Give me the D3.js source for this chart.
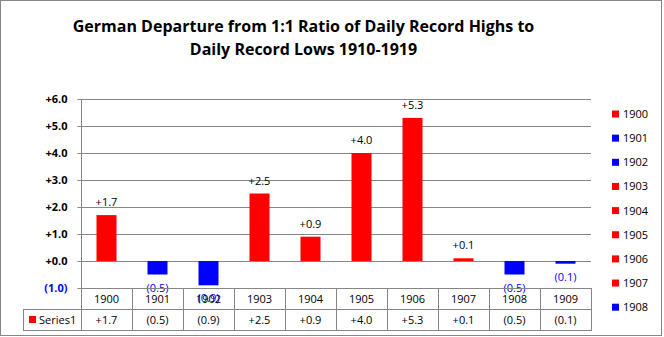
<!DOCTYPE html>
<html><head><meta charset="utf-8">
<script src="https://cdn.jsdelivr.net/npm/d3@7"></script>
<style>body{margin:0;background:#fff}svg{display:block}text{font-family:"Open Sans","Noto Sans",sans-serif}</style>
</head><body>
<script>
const years = ["1900","1901","1902","1903","1904","1905","1906","1907","1908","1909"];
const values = [1.7,-0.5,-0.9,2.5,0.9,4.0,5.3,0.1,-0.5,-0.1];
const yTicks = [-1,0,1,2,3,4,5,6];
const legendYears = ["1900","1901","1902","1903","1904","1905","1906","1907","1908"];
const titleLines = ["German Departure  from 1:1 Ratio of Daily Record Highs to","Daily Record Lows 1910-1919"];
const seriesName = "Series1";

const W=664,H=337;
const RED="#ff0000", BLUE="#0000ff", GRID="#868686";
const fmt = v => v<0 ? "("+Math.abs(v).toFixed(1)+")" : "+"+v.toFixed(1);
const col = v => v<0 ? BLUE : RED;

const svg=d3.select("body").append("svg").attr("width",W).attr("height",H);
svg.append("rect").attr("x",0.5).attr("y",0.5).attr("width",661).attr("height",335).attr("fill","#fff").attr("stroke",GRID);

// title
svg.selectAll(".title").data(titleLines).join("text")
  .attr("x",303.5).attr("y",(d,i)=>32+i*23).attr("text-anchor","middle")
  .attr("font-size",16).attr("font-weight","bold").attr("fill","#000").text(d=>d);

const x=d3.scaleBand().domain(years).range([81,591]);
const y=d3.scaleLinear().domain([-1,6]).range([288,99]);

// gridlines
svg.append("g").selectAll("line").data(yTicks.filter(t=>t>-1)).join("line")
  .attr("x1",81).attr("x2",591).attr("y1",d=>Math.round(y(d))+0.5).attr("y2",d=>Math.round(y(d))+0.5)
  .attr("stroke",GRID);

// y axis
const yAxis=d3.axisLeft(y).tickValues(yTicks).tickSize(4).tickFormat(fmt);
const gy=svg.append("g").attr("transform","translate(81.5,0)").call(yAxis);
gy.select(".domain").remove();
gy.selectAll(".tick line").attr("stroke",GRID);
gy.selectAll(".tick text").attr("x",-14).attr("font-size",11).attr("font-weight","bold")
  .attr("font-family","'Open Sans',sans-serif").attr("fill",d=>d<0?BLUE:"#000");

// bars
svg.append("g").selectAll("rect").data(values).join("rect")
  .attr("x",(d,i)=>x(years[i])+x.bandwidth()/2-10).attr("width",20)
  .attr("y",d=>y(Math.max(0,d))).attr("height",d=>Math.max(Math.abs(y(d)-y(0)),2))
  .attr("fill",d=>col(d));

// data labels
svg.append("g").selectAll("text").data(values).join("text")
  .attr("x",(d,i)=>x(years[i])+x.bandwidth()/2)
  .attr("y",d=>d>=0 ? y(d)-9 : y(d)+Math.max(0,2-Math.abs(y(d)-y(0)))+17)
  .attr("text-anchor","middle").attr("font-size",11).attr("fill",d=>d<0?BLUE:"#000").text(fmt);

// table lines
const tbl=svg.append("g").attr("stroke",GRID).attr("fill","none");
tbl.append("line").attr("x1",81).attr("x2",591).attr("y1",288.5).attr("y2",288.5);
tbl.append("line").attr("x1",23).attr("x2",591).attr("y1",309.5).attr("y2",309.5);
tbl.append("line").attr("x1",23).attr("x2",591).attr("y1",330.5).attr("y2",330.5);
tbl.append("line").attr("x1",23.5).attr("x2",23.5).attr("y1",309).attr("y2",331);
tbl.append("line").attr("x1",81.5).attr("x2",81.5).attr("y1",99).attr("y2",331);
tbl.selectAll(".v").data(years).join("line")
  .attr("x1",d=>Math.round(x(d)+x.bandwidth())+0.5).attr("x2",d=>Math.round(x(d)+x.bandwidth())+0.5)
  .attr("y1",288).attr("y2",331);

// table texts
svg.append("g").selectAll("text").data(years).join("text")
  .attr("x",d=>x(d)+x.bandwidth()/2).attr("y",303).attr("text-anchor","middle")
  .attr("font-size",11).attr("fill","#000").text(d=>d);
svg.append("g").selectAll("text").data(values).join("text")
  .attr("x",(d,i)=>x(years[i])+x.bandwidth()/2).attr("y",324).attr("text-anchor","middle")
  .attr("font-size",11).attr("fill","#000").text(fmt);
svg.append("rect").attr("x",29).attr("y",316).attr("width",7).attr("height",7).attr("fill",RED);
svg.append("text").attr("x",39).attr("y",324).attr("font-size",11).attr("fill","#000").text(seriesName);

// legend
const lg=svg.append("g").selectAll("g").data(legendYears).join("g")
  .attr("transform",(d,i)=>`translate(612,${114+i*24.15})`);
lg.append("rect").attr("x",0).attr("y",-3.5).attr("width",7).attr("height",7)
  .attr("fill",d=>col(values[years.indexOf(d)]));
lg.append("text").attr("x",11).attr("y",4).attr("font-size",11).attr("fill","#000").text(d=>d);
</script>
</body></html>
